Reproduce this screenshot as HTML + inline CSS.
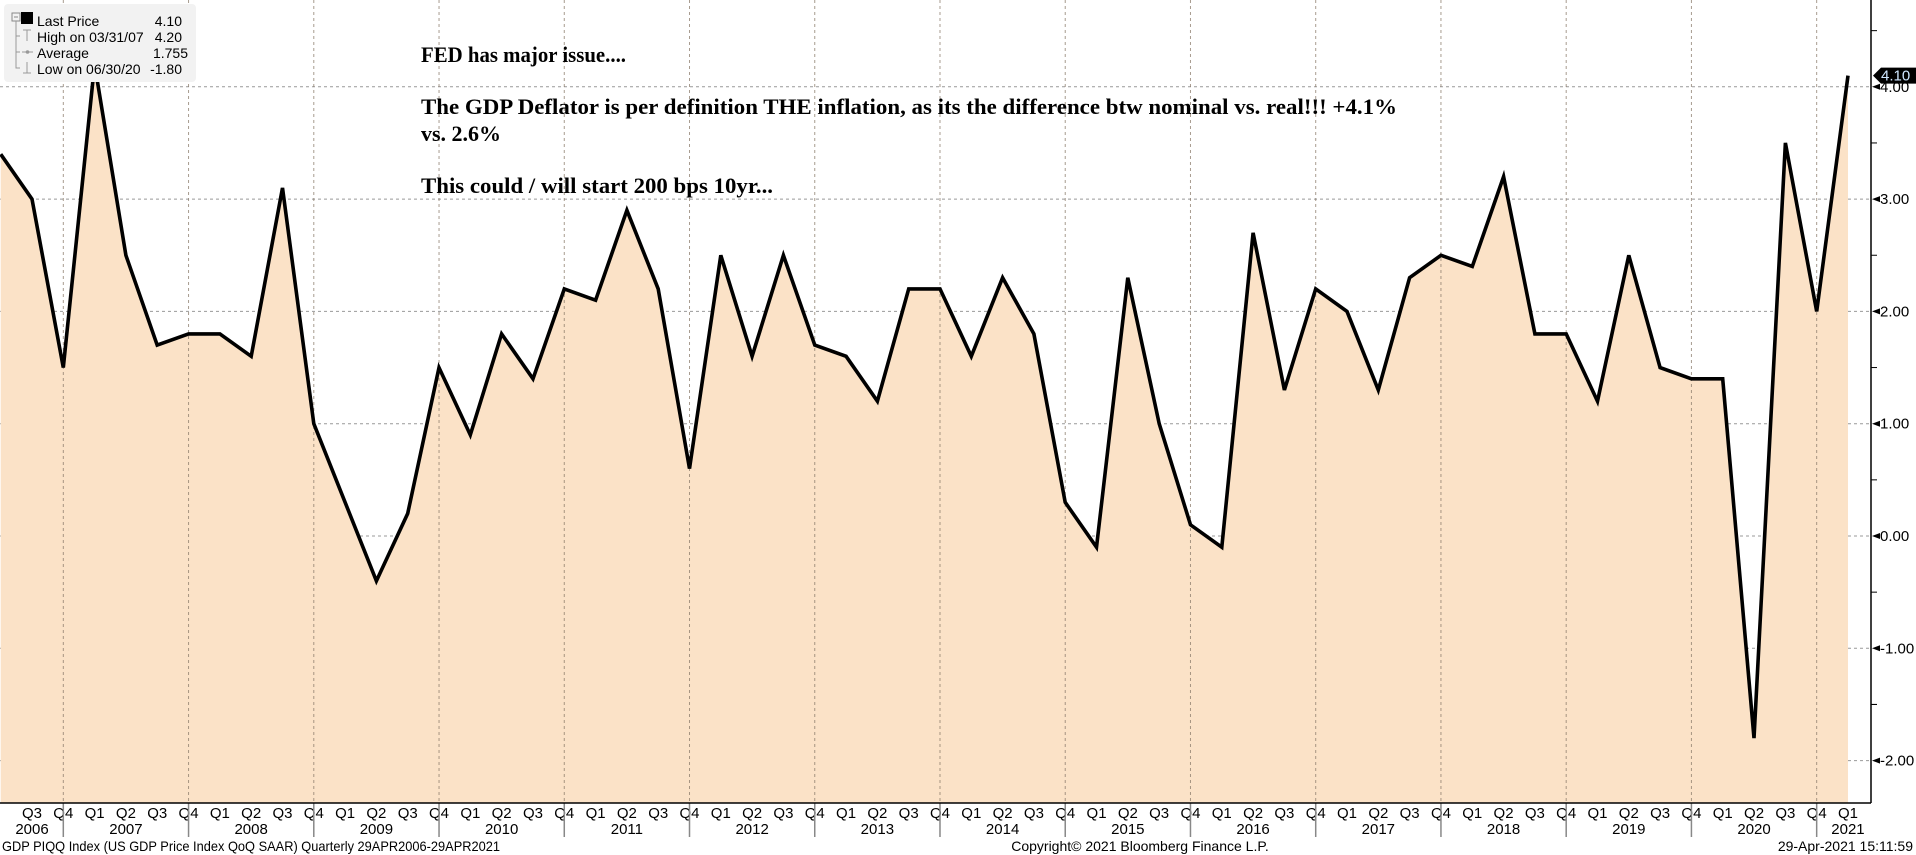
<!DOCTYPE html>
<html><head><meta charset="utf-8"><style>
html,body{margin:0;padding:0;background:#fff;}
svg{display:block;}
text{font-family:"Liberation Sans",sans-serif;}
</style></head><body>
<svg id="chart" width="1916" height="855" viewBox="0 0 1916 855" xmlns="http://www.w3.org/2000/svg">
<g id="grid"></g>
<path id="area" fill="#fbe2c7" stroke="none"></path>
<g id="vgrid"></g>
<polyline id="line" fill="none" stroke="#000" stroke-width="3.6" stroke-linejoin="miter"></polyline>
<g id="axes"></g>
<g font-weight="bold" font-size="22" fill="#000">
<text x="421" y="62" textLength="205" lengthAdjust="spacingAndGlyphs" style="font-family:'Liberation Serif',serif">FED has major issue....</text>
<text x="421" y="114" textLength="976" lengthAdjust="spacingAndGlyphs" style="font-family:'Liberation Serif',serif">The GDP Deflator is per definition THE inflation, as its the difference btw nominal vs. real!!!  +4.1%</text>
<text x="421" y="141" style="font-family:'Liberation Serif',serif">vs. 2.6%</text>
<text x="421" y="193" textLength="352" lengthAdjust="spacingAndGlyphs" style="font-family:'Liberation Serif',serif">This could / will start 200 bps 10yr...</text>
</g>
<g font-size="14" fill="#000">
<rect x="4" y="4" width="192" height="78" rx="4" fill="#f2f2f2"/>
<rect x="12" y="13" width="8" height="8" fill="none" stroke="#888"/>
<line x1="14" y1="17" x2="18" y2="17" stroke="#888"/>
<path d="M16 21 V68 H20 M16 36 H20 M16 52 H20" stroke="#999" fill="none"/>
<rect x="21" y="12" width="12" height="12" fill="#000"/>
<path d="M23 30 H31 M27 30 V41" stroke="#999" fill="none"/>
<path d="M22 52 H33" stroke="#999" fill="none"/><circle cx="27.5" cy="52" r="1.8" fill="#999"/>
<path d="M23 73 H31 M27 62 V73" stroke="#999" fill="none"/>
<text x="37" y="26">Last Price</text>
<text x="182" y="26" text-anchor="end">4.10</text>
<text x="37" y="42">High on 03/31/07</text>
<text x="182" y="42" text-anchor="end">4.20</text>
<text x="37" y="58">Average</text>
<text x="188" y="58" text-anchor="end">1.755</text>
<text x="37" y="74">Low on 06/30/20</text>
<text x="182" y="74" text-anchor="end">-1.80</text>
</g>
<g font-size="14" fill="#000">
<text x="2" y="851" textLength="498" lengthAdjust="spacingAndGlyphs">GDP PIQQ Index (US GDP Price Index QoQ SAAR)  Quarterly 29APR2006-29APR2021</text>
<text x="1140" y="851" text-anchor="middle">Copyright© 2021 Bloomberg Finance L.P.</text>
<text x="1913" y="851" text-anchor="end">29-Apr-2021 15:11:59</text>
</g>
</svg>
<script>
// data: quarterly GDP price index QoQ SAAR, starting 2006 Q2
const startYear = 2006, startQuarter = 2;
const values = [3.4,3.0,1.5,4.2,2.5,1.7,1.8,1.8,1.6,3.1,1.0,0.3,-0.4,0.2,1.5,0.9,1.8,1.4,2.2,2.1,2.9,2.2,0.6,2.5,1.6,2.5,1.7,1.6,1.2,2.2,2.2,1.6,2.3,1.8,0.3,-0.1,2.3,1.0,0.1,-0.1,2.7,1.3,2.2,2.0,1.3,2.3,2.5,2.4,3.2,1.8,1.8,1.2,2.5,1.5,1.4,1.4,-1.8,3.5,2.0,4.1];
const yTicks = [-2,-1,0,1,2,3,4];
const yTickLabels = ["-2.00","-1.00","0.00","1.00","2.00","3.00","4.00"];
const lastValueLabel = "4.10";

const NS = "http://www.w3.org/2000/svg";
const X0 = 32 - 31.31, DX = 31.31;
const Y0 = 536, DY = 112.3;
const AXIS_X = 1871, AXIS_Y = 803;
const x = i => X0 + i * DX;
const y = v => Y0 - v * DY;
function mk(tag, attrs, parent){const e=document.createElementNS(NS,tag);for(const k in attrs)e.setAttribute(k,attrs[k]);parent.appendChild(e);return e;}

const grid = document.getElementById('grid');
const vgrid = document.getElementById('vgrid');
const axes = document.getElementById('axes');

yTicks.forEach((t,k)=>{
  const gl = mk('line',{x1:0,x2:AXIS_X,y1:y(t),y2:y(t),stroke:'#999','stroke-dasharray':'3,3','stroke-width':1},grid);
  
  
  const tri = mk('path',{d:`M${AXIS_X+1} ${y(t)} l8 -3 v6 z`,fill:'#000'},axes);
  
  
  const lb = mk('text',{x:AXIS_X+9,y:y(t)+5,'font-size':15,fill:'#000'},axes);
  lb.textContent = yTickLabels[k];
  
  
  const mn = mk('line',{x1:AXIS_X,x2:AXIS_X+6,y1:y(t+0.5),y2:y(t+0.5),stroke:'#000'},axes);
  
  
});
const mn0 = mk('line',{x1:AXIS_X,x2:AXIS_X+6,y1:y(-1.5),y2:y(-1.5),stroke:'#000'},axes);



let pts = values.map((v,i)=>`${x(i).toFixed(1)},${y(v).toFixed(1)}`);
const last = values.length-1;
document.getElementById('area').setAttribute('d',`M${x(0)},${AXIS_Y} L${pts.join(' L')} L${x(last)},${AXIS_Y} Z`);
document.getElementById('line').setAttribute('points',pts.join(' '));

for(let i=1;i<values.length;i++){
  const q = ((startQuarter-1+i)%4)+1;
  const yr = startYear + Math.floor((startQuarter-1+i)/4);
  const ql = mk('text',{x:x(i),y:818,'text-anchor':'middle','font-size':15,fill:'#000'},axes);
  ql.textContent = 'Q'+q;
  
  
  if(q===4){
    const vl = mk('line',{x1:x(i),x2:x(i),y1:0,y2:AXIS_Y,stroke:'#8a7a6a','stroke-opacity':0.75,'stroke-dasharray':'3,3'},vgrid);
    
    
    const sep = mk('line',{x1:x(i),x2:x(i),y1:AXIS_Y,y2:837,stroke:'#888','stroke-width':1.5},axes);
    
    
  }
  if(q===2 || (i===1) || (i===last)){
    const yl = mk('text',{x:x(i),y:834,'text-anchor':'middle','font-size':15,fill:'#000'},axes);
    yl.textContent = String(yr);
    
    
  }
}
const ax = mk('line',{x1:0,x2:AXIS_X,y1:AXIS_Y,y2:AXIS_Y,stroke:'#000','stroke-width':1.5},axes);


const ay = mk('line',{x1:AXIS_X,x2:AXIS_X,y1:0,y2:AXIS_Y,stroke:'#000','stroke-width':1.5},axes);


const ly = y(values[last]);
const tag = mk('path',{d:`M${AXIS_X+2} ${ly} l8 -8 h36 v16 h-36 z`,fill:'#000'},axes);


const tt = mk('text',{x:AXIS_X+10,y:ly+5,'font-size':15,fill:'#cfe6ff'},axes);
tt.textContent = lastValueLabel;


</script>
</body></html>
